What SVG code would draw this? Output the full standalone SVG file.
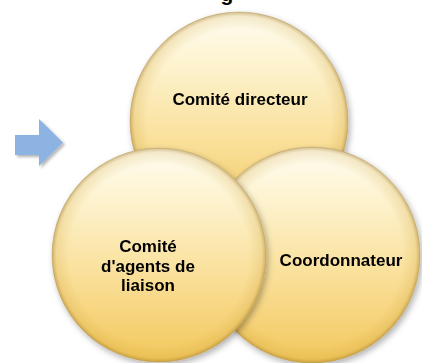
<svg xmlns="http://www.w3.org/2000/svg" width="422" height="363" viewBox="0 0 422 363">
  <defs>
    <!-- golden body: pale cream at top, warm gold at bottom -->
    <linearGradient id="body" x1="0" y1="0" x2="0" y2="1">
      <stop offset="0" stop-color="#FFFDF3"/>
      <stop offset="0.22" stop-color="#FDF4D2"/>
      <stop offset="0.55" stop-color="#FAE2A0"/>
      <stop offset="1" stop-color="#F3C85C"/>
    </linearGradient>
    <!-- darker rim toward the edge -->
    <radialGradient id="rim" cx="0.5" cy="0.5" r="0.5">
      <stop offset="0.84" stop-color="#C89A30" stop-opacity="0"/>
      <stop offset="0.96" stop-color="#C89A30" stop-opacity="0.2"/>
      <stop offset="1" stop-color="#9A7425" stop-opacity="0.5"/>
    </radialGradient>
    <filter id="shadow" x="-20%" y="-20%" width="140%" height="140%">
      <feDropShadow dx="2" dy="3" stdDeviation="3" flood-color="#000" flood-opacity="0.3"/>
    </filter>
    <filter id="arrowShadow" x="-30%" y="-30%" width="160%" height="160%">
      <feDropShadow dx="2" dy="2" stdDeviation="1.5" flood-color="#000" flood-opacity="0.3"/>
    </filter>
  </defs>
  <style>
    .disc { fill: url(#body); }
    .edge { fill: url(#rim); stroke: #B89850; stroke-opacity: 0.55; stroke-width: 0.8; }
    .label { font-family: "Liberation Sans", Arial, sans-serif; font-weight: bold; font-size: 17px; fill: #000; text-anchor: middle; }
  </style>

  <rect width="422" height="363" fill="#FFFFFF"/>

  <!-- heading (mostly above the frame) -->
  <text x="227" y="0.5" style="font-family:'Liberation Sans',Arial,sans-serif;font-weight:bold;font-size:21px" text-anchor="middle" fill="#000">g</text>

  <!-- block arrow -->
  <g id="arrow" filter="url(#arrowShadow)">
    <polygon points="15,135 39,135 39,119 63,142.5 39,166 39,155 15,155" fill="#8DB3E2"/>
  </g>

  <!-- Comité directeur -->
  <g id="node-directeur" filter="url(#shadow)">
    <circle class="disc" cx="239" cy="121" r="109"/>
    <circle class="edge" cx="239" cy="121" r="109"/>
    <text class="label" x="240" y="105">Comité directeur</text>
  </g>

  <!-- Coordonnateur -->
  <g id="node-coordonnateur" filter="url(#shadow)">
    <circle class="disc" cx="312" cy="255" r="108"/>
    <circle class="edge" cx="312" cy="255" r="108"/>
    <text class="label" x="341" y="266">Coordonnateur</text>
  </g>

  <!-- Comité d'agents de liaison -->
  <g id="node-agents" filter="url(#shadow)">
    <circle class="disc" cx="159" cy="255" r="107"/>
    <circle class="edge" cx="159" cy="255" r="107"/>
    <text class="label" x="148" y="252">Comité</text>
    <text class="label" x="148" y="272">d'agents de</text>
    <text class="label" x="148" y="291">liaison</text>
  </g>
</svg>
